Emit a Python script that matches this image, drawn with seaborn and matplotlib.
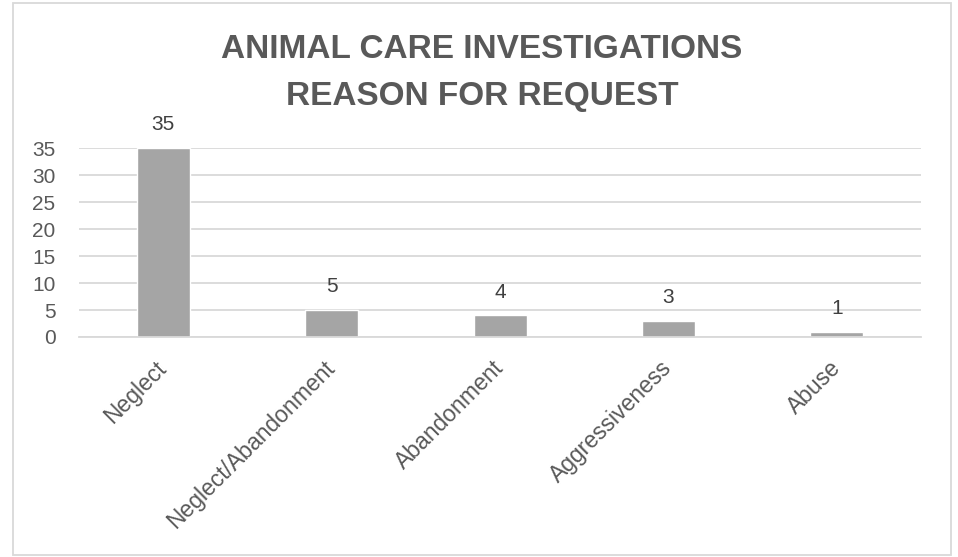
import matplotlib
matplotlib.use("Agg")
import matplotlib.pyplot as plt
import seaborn as sns
import pandas as pd
from matplotlib.patches import Rectangle

sns.set_theme(style="white")
plt.rcParams["font.family"] = ["Liberation Sans", "DejaVu Sans"]

# Data
reasons = ["Neglect", "Neglect/Abandonment", "Abandonment", "Aggressiveness", "Abuse"]
counts = [35, 5, 4, 3, 1]
y_ticks = [0, 5, 10, 15, 20, 25, 30, 35]

df = pd.DataFrame({"reason": reasons, "count": counts})

text_color = "#595959"
grid_color = "#D9D9D9"

fig = plt.figure(figsize=(9.58, 5.57), dpi=100)
ax = fig.add_axes([0.0825, 0.395, 0.879, 0.339])

sns.barplot(data=df, x="reason", y="count", color="#A5A5A5", width=0.315,
            saturation=1, ax=ax)

ax.set_ylim(0, 35)
ax.set_yticks(y_ticks)
ax.set_xlim(-0.5, len(reasons) - 0.5)
ax.grid(axis="y", color=grid_color, linewidth=1.3)
ax.set_axisbelow(True)
for side in ["top", "right", "left"]:
    ax.spines[side].set_visible(False)
ax.spines["bottom"].set_color(grid_color)
ax.spines["bottom"].set_linewidth(1.3)
ax.set_xlabel("")
ax.set_ylabel("")
ax.tick_params(axis="y", length=0, labelsize=15, labelcolor=text_color, pad=17)
ax.tick_params(axis="x", length=0, labelsize=16.5, labelcolor=text_color, pad=20)
plt.setp(ax.get_xticklabels(), rotation=45, ha="right", va="center",
         rotation_mode="anchor")

ax.bar_label(ax.containers[0], labels=[str(c) for c in counts], padding=10,
             fontsize=15, color="#404040")

fig.text(0.503, 0.869, "ANIMAL CARE INVESTIGATIONS\nREASON FOR REQUEST",
         ha="center", va="center", fontsize=24, fontweight="bold",
         color=text_color, linespacing=1.65)

# chart border
fig.patches.append(Rectangle((13 / 958, 2 / 557), 938 / 958, 552 / 557,
                             transform=fig.transFigure, fill=False,
                             edgecolor=grid_color, linewidth=1.3))

fig.savefig("out.png", dpi=100, facecolor="white")
